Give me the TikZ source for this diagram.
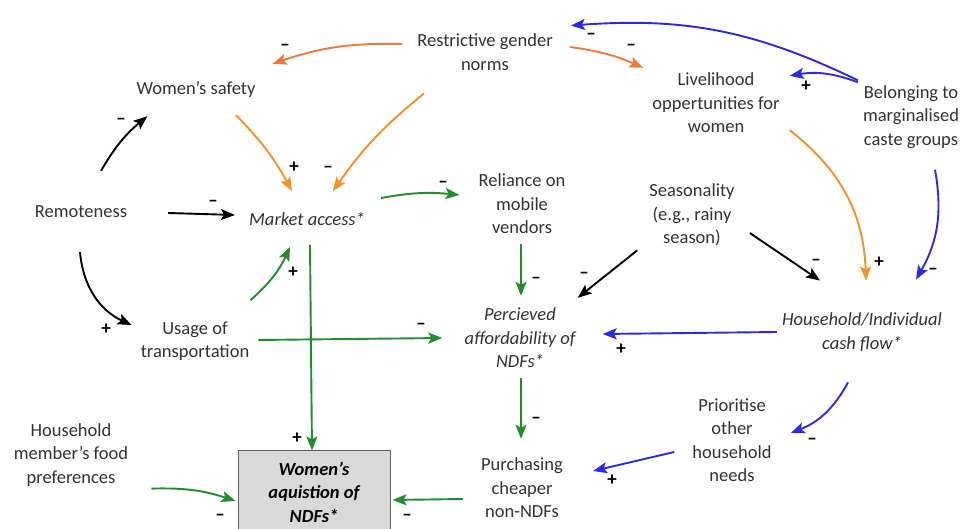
\documentclass[tikz,border=0pt]{standalone}
\usepackage{fontspec}
\setmainfont{Carlito}
\usepackage{tikz}
\usetikzlibrary{arrows.meta, positioning}
\definecolor{NormCoral}{RGB}{240,120,62}
\definecolor{NormOrange}{RGB}{245,145,35}
\definecolor{CasteBlue}{RGB}{45,40,230}
\definecolor{AccessGreen}{RGB}{35,140,45}
\definecolor{LabelGrey}{RGB}{50,50,50}
\definecolor{BoxGrey}{RGB}{217,217,217}
\definecolor{BoxEdge}{RGB}{95,95,95}

\begin{document}
\begin{tikzpicture}[x=1pt, y=1pt,
    factor/.style={align=center, text=LabelGrey, inner sep=2pt, font=\fontsize{18.5}{23.5}\selectfont},
    keyfactor/.style={factor, font=\fontsize{18.5}{23.5}\selectfont\itshape},
    link/.style={line width=1.9pt, -{Stealth[length=14pt,width=11pt,inset=3pt]}},
    sign/.style={inner sep=0pt, text=black, font=\fontsize{19}{19}\selectfont\bfseries}]
  \useasboundingbox (0,0) rectangle (963,529);

  % factors
  \node[factor] (norms) at (485,477) {Restrictive gender\\norms};
  \node[factor] (safety) at (196,440) {Women's safety};
  \node[factor] (live) at (716,426) {Livelihood\\oppertunities for\\women};
  \node[factor] (belong) at (911,412) {Belonging to\\marginalised\\caste groups};
  \node[factor] (rem) at (81,317) {Remoteness};
  \node[keyfactor] (market) at (307,310) {Market access*};
  \node[factor] (reliance) at (522,325) {Reliance on\\mobile\\vendors};
  \node[factor] (season) at (692,314) {Seasonality\\(e.g., rainy\\season)};
  \node[factor] (usage) at (195,188) {Usage of\\transportation};
  \node[keyfactor] (perc) at (520,191) {Percieved\\affordability of\\NDFs*};
  \node[keyfactor] (cash) at (862,197) {Household/Individual\\cash flow*};
  \node[factor] (food) at (71,74) {Household\\member's food\\preferences};
  \node[factor] (purch) at (522,41) {Purchasing\\cheaper\\non-NDFs};
  \node[factor] (prior) at (732,89) {Prioritise\\other\\household\\needs};
  \node[factor, draw=BoxEdge, line width=1pt, fill=BoxGrey, minimum width=152pt, minimum height=82pt,
        text=black, font=\fontsize{18.5}{23.5}\selectfont\bfseries\itshape] (women) at (314,37) {Women's\\aquistion of\\NDFs*};

  % orange links
  \draw[link, NormCoral] ([xshift=-13pt,yshift=8pt]norms.west) to[bend right=10] ([xshift=15pt,yshift=15pt]safety.north east);
  \draw[link, NormCoral] ([xshift=15pt,yshift=5pt]norms.east) to[bend left=8] ([xshift=-7pt,yshift=3pt]live.north west);
  \draw[link, NormOrange] ([xshift=9pt,yshift=-21pt]norms.south west) to[bend right=8] ([xshift=26pt,yshift=19pt]market.north);
  \draw[link, NormOrange] ([xshift=40pt,yshift=-16pt]safety.south) to[bend left=8] ([xshift=-15pt,yshift=19pt]market.north);
  \draw[link, NormOrange] ([xshift=8pt,yshift=5pt]live.south east) to[bend left=25] ([xshift=4pt,yshift=30pt]cash.north);

  % blue links
  \draw[link, CasteBlue] ([xshift=-3pt,yshift=3pt]belong.north west) to[bend right=15] ([xshift=16pt,yshift=6pt]norms.north east);
  \draw[link, CasteBlue] ([xshift=-3pt,yshift=1pt]belong.north west) to[bend right=15] ([xshift=8pt,yshift=-5pt]live.north east);
  \draw[link, CasteBlue] ([xshift=24pt,yshift=-19pt]belong.south) to[bend left=20] ([xshift=54pt,yshift=31pt]cash.north);
  \draw[link, CasteBlue] ([xshift=-3pt]cash.west) -- ([xshift=25pt,yshift=4pt]perc.east);
  \draw[link, CasteBlue] ([xshift=-14pt,yshift=-29pt]cash.south) to[bend left=20] ([xshift=17pt,yshift=7pt]prior.east);
  \draw[link, CasteBlue] ([xshift=-16pt,yshift=-12pt]prior.west) -- ([xshift=28pt,yshift=17pt]purch.east);

  % black links
  \draw[link, black] ([xshift=20pt,yshift=33pt]rem.north) to[bend left=10] ([xshift=13pt,yshift=-17pt]safety.south west);
  \draw[link, black] ([xshift=39pt,yshift=-1pt]rem.east) -- ([xshift=-12pt,yshift=4pt]market.west);
  \draw[link, black] ([xshift=-1pt,yshift=-32pt]rem.south) to[bend right=30] ([xshift=-7pt,yshift=16pt]usage.west);
  \draw[link, black] ([xshift=-10pt,yshift=-2pt]season.south west) -- ([yshift=8pt]perc.north east);
  \draw[link, black] ([xshift=13pt,yshift=-18pt]season.east) -- ([xshift=-42pt,yshift=30pt]cash.north);

  % green links
  \draw[link, AccessGreen] ([xshift=-1pt,yshift=19pt]usage.north east) to[bend right=12] ([xshift=-17pt,yshift=-19pt]market.south);
  \draw[link, AccessGreen] ([xshift=3pt,yshift=-17pt]market.south) -- ([xshift=-2pt]women.north);
  \draw[link, AccessGreen] ([xshift=7pt,yshift=1pt]usage.east) -- ([xshift=-20pt]perc.west);
  \draw[link, AccessGreen] ([xshift=14pt,yshift=21pt]market.east) to[bend left=8] ([xshift=-17pt,yshift=9pt]reliance.west);
  \draw[link, AccessGreen] ([xshift=-1pt,yshift=-8pt]reliance.south) -- ([xshift=1pt,yshift=10pt]perc.north);
  \draw[link, AccessGreen] ([xshift=1pt,yshift=-8pt]perc.south) -- ([xshift=-1pt,yshift=17pt]purch.north);
  \draw[link, AccessGreen] ([xshift=-16pt,yshift=-11pt]purch.west) -- ([xshift=2pt,yshift=-8pt]women.east);
  \draw[link, AccessGreen] ([xshift=21pt]food.south east) to[bend left=10] ([xshift=-2pt,yshift=-9pt]women.west);

  % polarity signs
  \foreach \x/\y/\s [count=\i] in {285/482/--, 631/482/--, 591/493/--, 806/443/+, 328/360/--, 294/362/+,
      121/408/--, 213/326/--, 106/200/+, 293/257/+, 297/91/+, 421/203/--, 443/345/--, 536/249/--,
      584/254/--, 816/267/--, 879/267/+, 933/258/--, 621/180/+, 812/88/--, 612/49/+, 536/109/--,
      407/12/--, 220/12/--}
    \node[sign] (s\i) at (\x,\y) {\s};
\end{tikzpicture}
\end{document}
